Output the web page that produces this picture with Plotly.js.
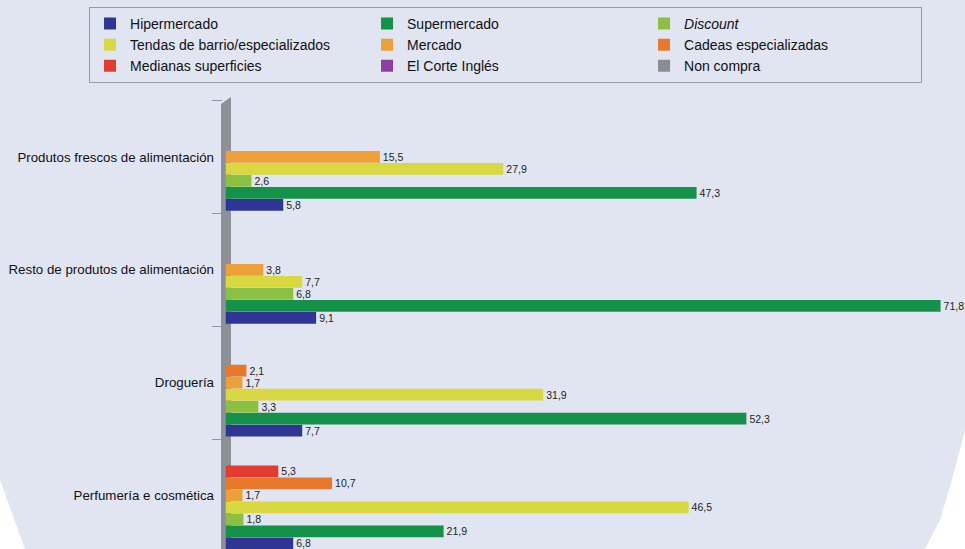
<!DOCTYPE html>
<html>
<head>
<meta charset="utf-8">
<script src="https://cdn.plot.ly/plotly-3.0.1.min.js"></script>
<style>
html,body{margin:0;padding:0;overflow:hidden;background:#ffffff;}
#chart{width:965px;height:549px;}
</style>
</head>
<body>
<div id="chart"></div>
<script>
// Categories (top to bottom as shown)
var categories = ["Produtos frescos de alimentación", "Resto de produtos de alimentación", "Droguería", "Perfumería e cosmética"];

// Series values (same order as categories)
var hipermercado = [5.8, 9.1, 7.7, 6.8];
var supermercado = [47.3, 71.8, 52.3, 21.9];
var discount     = [2.6, 6.8, 3.3, 1.8];
var tendas       = [27.9, 7.7, 31.9, 46.5];
var mercado      = [15.5, 3.8, 1.7, 1.7];
var cadeas       = [null, null, 2.1, 10.7];
var medianas     = [null, null, null, 5.3];
var corteIngles  = [null, null, null, null];
var nonCompra    = [null, null, null, null];

var seriesNames = ["Hipermercado", "Supermercado", "<i>Discount</i>", "Tendas de barrio/especializados", "Mercado", "Cadeas especializadas", "Medianas superficies", "El Corte Inglés", "Non compra"];
var seriesValues = [hipermercado, supermercado, discount, tendas, mercado, cadeas, medianas, corteIngles, nonCompra];
var seriesColors = ["#2e3592", "#15924a", "#8cc043", "#d8d941", "#eba03a", "#e8782b", "#e23b2f", "#8c3ea3", "#898d93"];

var traces = seriesNames.map(function(name, i){
  return {
    type: "bar",
    orientation: "h",
    name: name,
    y: categories,
    x: seriesValues[i],
    marker: {color: seriesColors[i], line: {width: 0}},
    texttemplate: "%{x:.1f}",
    textposition: "outside",
    constraintext: "none",
    cliponaxis: false,
    textfont: {family: "Liberation Sans, Arial, sans-serif", size: 10.5, color: "#1e1e1e"},
    hoverinfo: "x+name"
  };
});

var layout = {
  width: 965,
  height: 549,
  paper_bgcolor: "#e1e5f1",
  plot_bgcolor: "rgba(0,0,0,0)",
  separators: ",.",
  barmode: "group",
  bargap: 0.043,
  bargroupgap: 0.02,
  margin: {l: 222, r: 1, t: 100, b: 0},
  font: {family: "Liberation Sans, Arial, sans-serif", size: 13.3, color: "#111111"},
  showlegend: true,
  legend: {
    orientation: "h",
    x: -0.1792, xanchor: "left",
    y: 1.2075, yanchor: "top",
    bgcolor: "rgba(0,0,0,0)",
    bordercolor: "#9a9ca3",
    borderwidth: 1,
    entrywidth: 232,
    entrywidthmode: "pixels",
    traceorder: "normal",
    font: {family: "Liberation Sans, Arial, sans-serif", size: 14, color: "#111111"}
  },
  xaxis: {
    domain: [0.00472, 1],
    range: [0, 74.15],
    visible: false,
    showgrid: false,
    zeroline: false,
    fixedrange: true
  },
  yaxis: {
    type: "category",
    categoryorder: "array",
    categoryarray: categories.slice().reverse(),
    range: [-0.475, 3.505],
    anchor: "free",
    position: 0,
    tickson: "boundaries",
    ticks: "outside",
    ticklen: 10,
    tickwidth: 1,
    tickcolor: "#8797b3",
    ticklabelstandoff: 8,
    showgrid: false,
    zeroline: false,
    showline: false,
    tickfont: {family: "Liberation Sans, Arial, sans-serif", size: 13.3, color: "#111111"},
    fixedrange: true
  },
  shapes: [
    {type: "path", xref: "paper", yref: "paper", layer: "below",
     path: "M -0.00135,0 L -0.00135,0.991 L 0.01213,1.0067 L 0.01213,0 Z",
     fillcolor: "#8d9096", line: {width: 0}},
    {type: "path", xref: "paper", yref: "paper", layer: "above",
     path: "M 1.0015,0.265 L 0.9838,0.154 L 0.9677,0.065 L 0.9474,0 L 1.0015,0 Z",
     fillcolor: "#ffffff", line: {width: 0}},
    {type: "path", xref: "paper", yref: "paper", layer: "above",
     path: "M -0.2992,0.154 L -0.2992,0 L -0.2655,0 Z",
     fillcolor: "#ffffff", line: {width: 0}}
  ]
};

Plotly.newPlot("chart", traces, layout, {displayModeBar: false, staticPlot: true});
</script>
</body>
</html>
